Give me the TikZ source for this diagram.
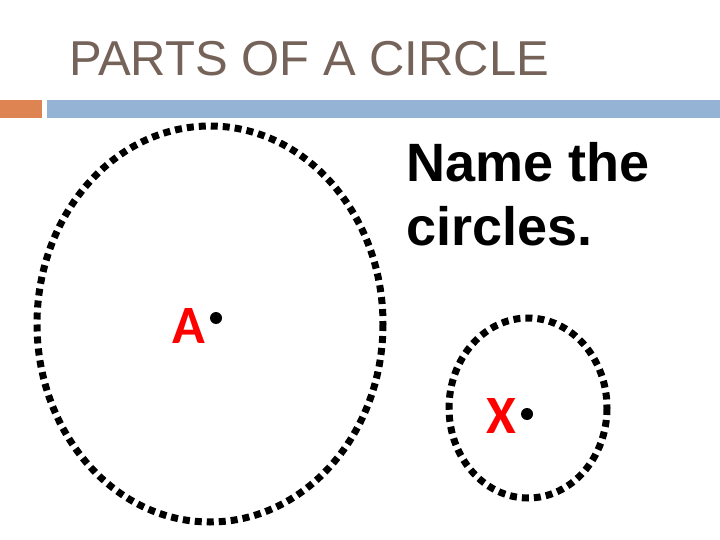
\documentclass[tikz,border=0pt]{standalone}
\usepackage{fontspec}
\setmainfont{Liberation Sans}
\newfontfamily\labelfont{Carlito}
\definecolor{titlegray}{RGB}{117,99,90}
\definecolor{barorange}{RGB}{221,132,82}
\definecolor{barblue}{RGB}{149,179,213}

\begin{document}
\begin{tikzpicture}[x=1pt,y=-1pt]
  \tikzstyle{ring}=[line width=7pt,dash pattern=on 7pt off 5pt]
  \tikzstyle{point}=[circle,fill=black,inner sep=0pt,minimum size=12pt]
  \tikzstyle{letter}=[text=red,font=\labelfont\bfseries\fontsize{54}{54}\selectfont,inner sep=0pt,anchor=base west]
  \useasboundingbox (0,0) rectangle (720,540);

  % title and bar
  \node [anchor=base west,inner sep=0pt,text=titlegray,font=\fontsize{49}{49}\selectfont] (title) at (69,76) {PARTS OF A CIRCLE};
  \fill [barorange] (0,100) rectangle (42,118);
  \fill [barblue] (47,100) rectangle (720,118);

  \node [anchor=base west,inner sep=0pt,align=left,font=\bfseries\fontsize{54}{63}\selectfont] (question) at (406,245) {Name the\\circles.};

  % the two circles
  \draw [ring] (210,324) ellipse [x radius=173,y radius=198];
  \draw [ring] (528,408) ellipse [x radius=79,y radius=90];

  \node [point] (dotA) at (216,318) {};
  \node [letter] (labelA) at (172,343) {A};
  \node [point] (dotX) at (527,414) {};
  \node [letter] (labelX) at (486,433) {X};
\end{tikzpicture}
\end{document}
